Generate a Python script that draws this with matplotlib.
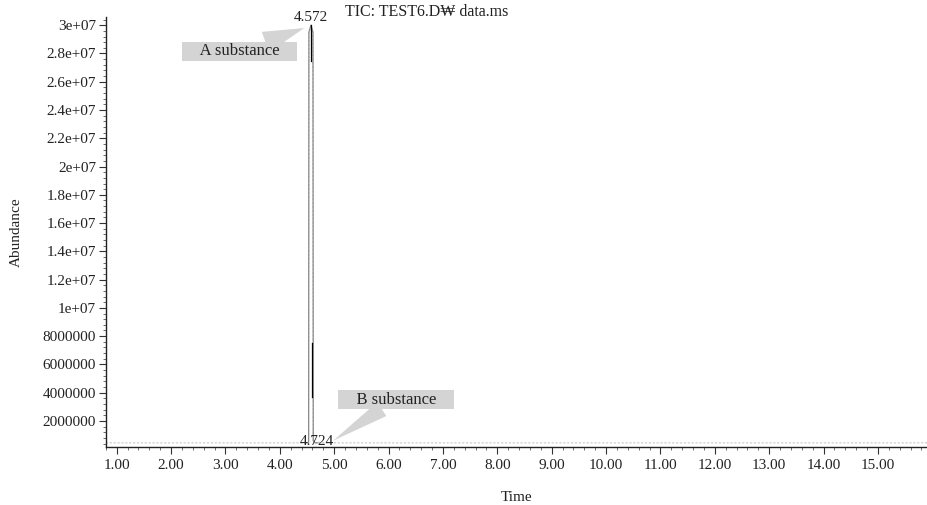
import numpy as np
import matplotlib
matplotlib.use('Agg')
import matplotlib.pyplot as plt
from matplotlib.ticker import MultipleLocator, FixedLocator

plt.rcParams['font.family'] = ['Liberation Serif', 'DejaVu Serif']

# TIC trace (time in min, abundance in counts)
time = [0.80, 2.00, 3.00, 4.00, 4.50, 4.530, 4.535, 4.572, 4.610, 4.615, 4.650, 4.700, 4.724, 4.750, 5.00, 8.00, 12.00, 15.92]
abundance = [4.5e5, 4.5e5, 4.5e5, 4.5e5, 4.5e5, 5.0e5, 2.95e7, 3.0e7, 2.95e7, 6.0e5, 4.5e5, 4.5e5, 5.0e5, 4.5e5, 4.5e5, 4.5e5, 4.5e5, 4.5e5]

# darker segments inside the main peak
dark_t = [[4.572, 4.572], [4.600, 4.600]]
dark_y = [[3.0e7, 2.75e7], [7.5e6, 3.7e6]]

peak_times = [4.572, 4.724]
peak_heights = [3.0e7, 1e5]
peak_names = ['A substance', 'B substance']

y_ticks = [2e6, 4e6, 6e6, 8e6, 1e7, 1.2e7, 1.4e7, 1.6e7, 1.8e7, 2e7, 2.2e7, 2.4e7, 2.6e7, 2.8e7, 3e7]
y_labels = ['2000000', '4000000', '6000000', '8000000', '1e+07', '1.2e+07', '1.4e+07', '1.6e+07',
            '1.8e+07', '2e+07', '2.2e+07', '2.4e+07', '2.6e+07', '2.8e+07', '3e+07']
x_ticks = list(range(1, 16))
x_labels = ['{:.2f}'.format(t) for t in x_ticks]

fig = plt.figure(figsize=(9.28, 5.05), dpi=100)
ax = fig.add_axes([0.114, 0.115, 0.886, 0.851])

# baseline part of the trace is faint, peak drawn in grey
ax.plot(time, abundance, color='#c8c8c8', lw=0.8, ls=(0, (2, 1.5)))
ax.plot(time[4:12], abundance[4:12], color='#8a8a8a', lw=0.9)
for t, y in zip(dark_t, dark_y):
    ax.plot(t, y, color='black', lw=0.9)

ax.set_xlim(0.80, 15.92)
ax.set_ylim(1.6e5, 3.057e7)

for sp in ['top', 'right']:
    ax.spines[sp].set_visible(False)
for sp in ['left', 'bottom']:
    ax.spines[sp].set_color('#222222')
    ax.spines[sp].set_linewidth(1.0)

ax.xaxis.set_major_locator(FixedLocator(x_ticks))
ax.set_xticklabels(x_labels)
ax.xaxis.set_minor_locator(MultipleLocator(0.2))
ax.yaxis.set_major_locator(FixedLocator(y_ticks))
ax.set_yticklabels(y_labels)
ax.yaxis.set_minor_locator(MultipleLocator(4e5))
ax.tick_params(axis='both', which='major', labelsize=11, length=5, width=0.8, color='#333333', labelcolor='#222222')
ax.tick_params(axis='y', which='major', pad=2)
ax.tick_params(axis='both', which='minor', length=2.5, width=0.6, color='#555555')

ax.set_xlabel('Time', fontsize=11, labelpad=14, color='#222222')
ax.set_ylabel('Abundance', fontsize=11, labelpad=14, color='#222222')
fig.text(0.372, 0.976, 'TIC: TEST6.D\u20a9 data.ms', fontsize=11.5, ha='left', va='center', color='#222222')

# peak retention-time labels
ax.text(peak_times[0], peak_heights[0] + 1e5, '4.572', fontsize=11, ha='center', va='bottom', color='#222222')
ax.text(peak_times[1] - 0.04, peak_heights[1], '4.724', fontsize=11, ha='center', va='bottom', color='#222222')

# callout boxes
box = dict(boxstyle='square,pad=0.08', fc='#d4d4d4', ec='none')
ax.annotate('    ' + peak_names[0] + '    ', xy=(4.45, 2.98e7), xytext=(3.26, 2.815e7),
            fontsize=12, ha='center', va='center', color='#222222', bbox=box,
            arrowprops=dict(arrowstyle='wedge,tail_width=1.3', fc='#d4d4d4', ec='none',
                            shrinkA=0, shrinkB=0))
ax.annotate('    ' + peak_names[1] + '    ', xy=(4.98, 6e5), xytext=(6.14, 3.5e6),
            fontsize=12, ha='center', va='center', color='#222222', bbox=box,
            arrowprops=dict(arrowstyle='wedge,tail_width=1.0', fc='#d4d4d4', ec='none',
                            shrinkA=0, shrinkB=0))

fig.savefig('out.png', dpi=100)
